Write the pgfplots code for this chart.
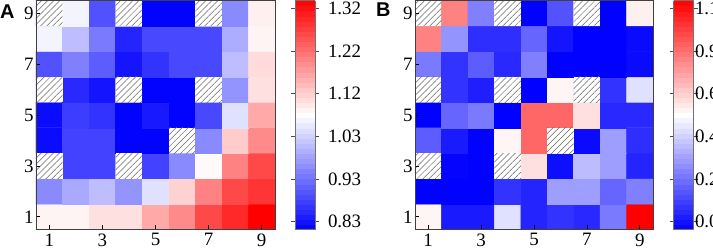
\documentclass[border=0pt]{standalone}
\usepackage{fontspec}
\setmainfont{Liberation Serif}
\newfontfamily\labfont{Liberation Sans}
\usepackage{pgfplots}
\pgfplotsset{compat=1.18}
\usetikzlibrary{patterns.meta}
\pgfplotsset{
  colormap={bwr}{rgb255=(0,0,255) rgb255=(255,255,255) rgb255=(255,0,0)},
  hm/.style={
    scale only axis, width=239bp, height=229bp,
    xmin=0.5, xmax=9.5, ymin=0.5, ymax=9.5,
    xtick={1,3,5,7,9}, ytick={1,3,5,7,9},
    tick label style={font=\fontsize{19}{19}\selectfont},
    xticklabel style={yshift=-0.5bp},
    yticklabel style={xshift=1bp},
    tick align=inside, xtick pos=bottom, ytick pos=left,
    major tick length=4bp,
    tick style={black, line width=0.6bp},
    axis line style={draw=black!75, line width=0.8bp},
    axis on top=true,
    /pgf/number format/assume math mode=true,
    colormap name=bwr,
    colorbar sampled,
  },
  cb/.style={
    at={(parent axis.north east)}, anchor=north west, xshift=12bp,
    scale only axis, width=20bp, height=229bp,
    samples=46,
    tick label style={font=\fontsize{19}{19}\selectfont},
    tick align=outside, major tick length=4bp,
    tick style={black!70, line width=0.6bp},
    axis line style={draw=black!55, line width=0.6bp},
    /pgf/number format/assume math mode=true,
  },
  hatchst/.style={draw=none, fill=white, postaction={pattern={Lines[angle=45,distance=4.3bp,line width=0.5bp]}, pattern color=black!60}},
}
\newcommand{\hatch}[4]{\addplot[hatchst] coordinates {(#1,#3) (#2,#3) (#2,#4) (#1,#4)} -- cycle;}
\newcommand{\allhatch}{%
  \hatch{0.5}{1.5}{8.5}{9.5}\hatch{3.5}{4.5}{8.5}{9.5}\hatch{6.5}{7.5}{8.5}{9.5}%
  \hatch{0.5}{1.5}{5.5}{6.5}\hatch{3.5}{4.5}{5.5}{6.5}\hatch{6.5}{7.5}{5.5}{6.5}%
  \hatch{5.5}{6.5}{3.5}{4.5}\hatch{0.5}{1.5}{2.5}{3.5}\hatch{3.5}{4.5}{2.5}{3.5}}
\begin{document}
\begin{tikzpicture}
\begin{axis}[hm, at={(36bp,19.5bp)}, anchor=south west,
  point meta min=0.812, point meta max=1.338,
  colorbar style={cb, ytick={0.83,0.928,1.026,1.124,1.222,1.32}, yticklabels={0.83,0.93,1.03,1.12,1.22,1.32}, yticklabel style={xshift=5bp}}]
\addplot[matrix plot*, mesh/cols=9, point meta=explicit] table[meta=c] {
x y c
1 1 1.086
2 1 1.086
3 1 1.107
4 1 1.107
5 1 1.164
6 1 1.196
7 1 1.264
8 1 1.296
9 1 1.338
1 2 0.954
2 2 0.986
3 2 1.007
4 2 0.965
5 2 1.043
6 2 1.122
7 2 1.204
8 2 1.264
9 2 1.285
1 3 1.000
2 3 0.880
3 3 0.880
4 3 1.000
5 3 0.880
6 3 0.954
7 3 1.080
8 3 1.204
9 3 1.264
1 4 0.823
2 4 0.880
3 4 0.880
4 4 0.814
5 4 0.814
6 4 1.000
7 4 0.954
8 4 1.128
9 4 1.196
1 5 0.823
2 5 0.875
3 5 0.865
4 5 0.814
5 5 0.838
6 5 0.814
7 5 0.886
8 5 1.043
9 5 1.164
1 6 1.000
2 6 0.854
3 6 0.833
4 6 1.000
5 6 0.814
6 6 0.814
7 6 1.000
8 6 0.965
9 6 1.107
1 7 0.896
2 7 0.944
3 7 0.907
4 7 0.833
5 7 0.865
6 7 0.886
7 7 0.886
8 7 1.007
9 7 1.112
1 8 1.064
2 8 1.007
3 8 0.938
4 8 0.849
5 8 0.886
6 8 0.886
7 8 0.886
8 8 0.991
9 8 1.086
1 9 1.000
2 9 1.064
3 9 0.896
4 9 1.000
5 9 0.814
6 9 0.814
7 9 1.000
8 9 0.954
9 9 1.091
};
\allhatch
\end{axis}
\begin{axis}[hm, at={(415bp,19.5bp)}, anchor=south west, width=238bp,
  point meta min=-0.04, point meta max=1.115,
  colorbar style={cb, ytick={0,0.215,0.43,0.645,0.86,1.075}, yticklabels={0.0,0.2,0.4,0.6,0.9,1.1}, yticklabel style={xshift=-6bp}}]
\addplot[matrix plot*, mesh/cols=9, point meta=explicit] table[meta=c] {
x y c
1 1 0.561
2 1 0.018
3 1 0.018
4 1 0.468
5 1 0.041
6 1 0.076
7 1 0.052
8 1 0.237
9 1 1.115
1 2 -0.038
2 2 -0.038
3 2 -0.038
4 2 0.076
5 2 0.041
6 2 0.318
7 2 0.318
8 2 0.191
9 2 0.249
1 3 0.500
2 3 -0.028
3 3 -0.038
4 3 0.500
5 3 0.607
6 3 -0.005
7 3 0.387
8 3 0.318
9 3 0.041
1 4 0.168
2 4 0.018
3 4 -0.038
4 4 0.561
5 4 0.884
6 4 0.500
7 4 -0.017
8 4 0.318
9 4 0.064
1 5 -0.038
2 5 0.191
3 5 0.237
4 5 -0.038
5 5 0.884
6 5 0.884
7 5 0.607
8 5 0.052
9 5 0.052
1 6 0.500
2 6 0.076
3 6 0.029
4 6 0.500
5 6 -0.038
6 6 0.561
7 6 0.500
8 6 0.076
9 6 0.468
1 7 0.237
2 7 0.076
3 7 0.168
4 7 0.052
5 7 0.249
6 7 -0.038
7 7 -0.038
8 7 -0.038
9 7 -0.017
1 8 0.820
2 8 0.295
3 8 0.064
4 8 0.064
5 8 0.191
6 8 0.006
7 8 -0.038
8 8 -0.038
9 8 -0.017
1 9 0.500
2 9 0.820
3 9 0.249
4 9 0.500
5 9 -0.038
6 9 0.145
7 9 0.500
8 9 -0.038
9 9 0.572
};
\allhatch
\end{axis}
\node[anchor=north west, inner sep=0, font=\labfont\bfseries\fontsize{20}{20}\selectfont] at (0bp,244bp) {A};
\node[anchor=north west, inner sep=0, font=\labfont\bfseries\fontsize{20}{20}\selectfont] at (376bp,246bp) {B};
\pgfresetboundingbox
\path[use as bounding box] (0,0) rectangle (713bp,249bp);
\end{tikzpicture}
\end{document}
